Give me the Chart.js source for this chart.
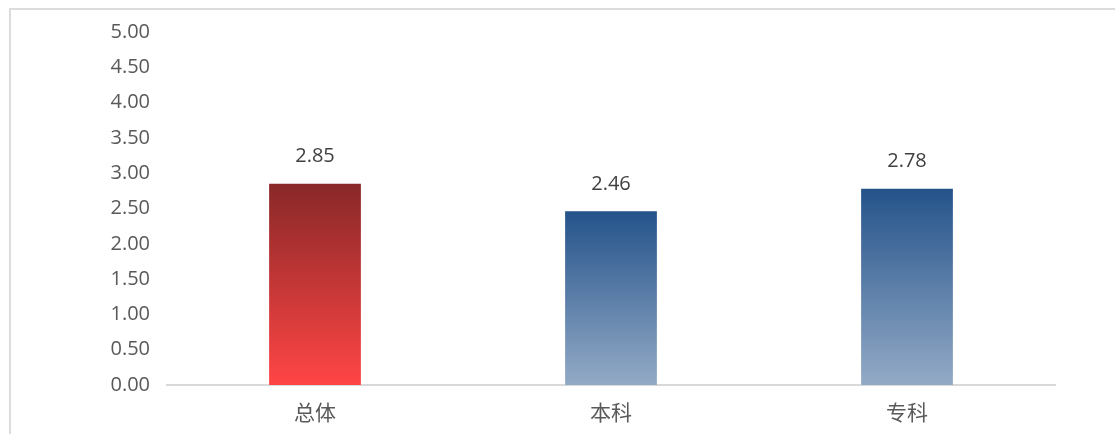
<!DOCTYPE html>
<html>
<head>
<meta charset="utf-8">
<script src="https://cdn.jsdelivr.net/npm/chart.js@4/dist/chart.umd.min.js"></script>
<style>
    body { margin: 0; background: #fff; }
    #wrap { position: relative; width: 1115px; height: 434px; overflow: hidden; }
    #frame { position: absolute; left: 9px; top: 8px; width: 1200px; height: 500px;
             border-left: 2px solid #dcdcdc; border-top: 2px solid #dcdcdc; box-sizing: border-box; }
    canvas { position: absolute; left: 0; top: 0; }
</style>
</head>
<body>
<div id="wrap">
    <div id="frame"></div>
    <canvas id="grafik" width="1115" height="434"></canvas>
</div>
<script>
const categories = ['总体', '本科', '专科'];
const values = [2.85, 2.46, 2.78];
const yTicks = [0, 0.5, 1, 1.5, 2, 2.5, 3, 3.5, 4, 4.5, 5];

const numFont = '"Open Sans", sans-serif';
const cjkFont = '"Noto Sans CJK SC", sans-serif';

// top/bottom colours for each bar's gradient
const gradientStops = [
    ['#892828', '#ff4545'],
    ['#24538a', '#93aac6'],
    ['#24538a', '#93aac6']
];

function barGradient(context) {
    const chart = context.chart;
    const y = chart.scales.y;
    if (!chart.chartArea || !y) {
        return gradientStops[context.dataIndex][1];
    }
    const top = y.getPixelForValue(values[context.dataIndex]);
    const bottom = y.getPixelForValue(0);
    const g = chart.ctx.createLinearGradient(0, top, 0, bottom);
    g.addColorStop(0, gradientStops[context.dataIndex][0]);
    g.addColorStop(1, gradientStops[context.dataIndex][1]);
    return g;
}

const valueLabels = {
    id: 'valueLabels',
    afterDatasetsDraw(chart) {
        const ctx = chart.ctx;
        const meta = chart.getDatasetMeta(0);
        ctx.save();
        ctx.font = '20px ' + numFont;
        ctx.fillStyle = '#404040';
        ctx.textAlign = 'center';
        ctx.textBaseline = 'middle';
        meta.data.forEach((bar, i) => {
            ctx.fillText(values[i].toFixed(2), bar.x, bar.y - 27);
        });
        ctx.restore();
    }
};

new Chart(document.getElementById('grafik').getContext('2d'), {
    type: 'bar',
    data: {
        labels: categories,
        datasets: [{
            data: values,
            backgroundColor: barGradient,
            borderWidth: 0,
            barPercentage: 0.31,
            categoryPercentage: 1
        }]
    },
    options: {
        responsive: false,
        animation: false,
        layout: { padding: { left: 0, right: 60, top: 32, bottom: 0 } },
        plugins: {
            legend: { display: false },
            tooltip: { enabled: false }
        },
        scales: {
            x: {
                grid: { display: false },
                border: { display: true, color: '#d9d9d9', width: 2 },
                ticks: { color: '#595959', font: { family: cjkFont, size: 21 }, padding: 6 },
                afterFit(scale) { scale.height = 49; }
            },
            y: {
                min: 0,
                max: 5,
                afterBuildTicks(scale) { scale.ticks = yTicks.map(v => ({ value: v })); },
                grid: { display: false },
                border: { display: false },
                ticks: {
                    color: '#595959',
                    font: { family: numFont, size: 20 },
                    padding: 9,
                    callback: v => Number(v).toFixed(2)
                },
                afterFit(scale) { scale.width = 167; }
            }
        }
    },
    plugins: [valueLabels]
});
</script>
</body>
</html>
